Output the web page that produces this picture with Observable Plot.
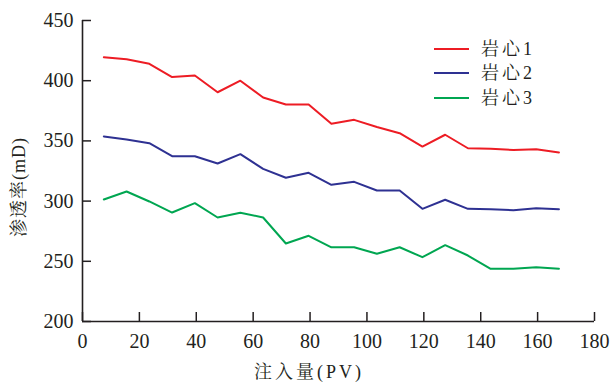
<!DOCTYPE html>
<html><head><meta charset="utf-8">
<script src="https://cdn.jsdelivr.net/npm/d3@7"></script>
<script src="https://cdn.jsdelivr.net/npm/@observablehq/plot@0.6"></script>
<style>
html,body{margin:0;padding:0;background:#fff;}
#chart{position:relative;width:615px;height:383px;color:#231f20;}
.legend{position:absolute;left:434px;top:37px;font-size:18px;}
.legend .row{display:flex;align-items:center;height:24.3px;}
.legend .sw{width:35px;height:2px;margin-right:12px;}
.legend .lab{letter-spacing:3px;line-height:1;}
.ttl{position:absolute;font-size:18px;letter-spacing:3px;white-space:nowrap;line-height:1;}
</style></head><body><div id="chart"></div>
<script>
const pv = [7.5,15.5,23.5,31.5,39.5,47.5,55.5,63.5,71.5,79.5,87.5,95.5,103.5,111.5,119.5,127.5,135.5,143.5,151.5,159.5,167.5];
const core1 = [419.5,417.9,414,403,404.3,390.4,400,386,380.2,380.2,364.2,367.5,361.5,356.4,345.3,355.1,343.9,343.5,342.5,343.1,340.4];
const core2 = [353.7,351.2,348.1,337.3,337.3,331.2,339,326.8,319.4,323.5,313.5,316,308.8,308.8,293.6,301.1,293.6,293.3,292.5,294.1,293.2];
const core3 = [301.3,308,299.7,290.5,298.3,286.4,290.3,286.4,264.8,271.2,261.6,261.7,256.2,261.7,253.4,263.4,254.8,243.8,243.8,245.1,243.8];
const seriesNames = ["岩心1","岩心2","岩心3"];
const seriesColors = ["#ed1c24","#2e3192","#00a651"];
const xTicks = [0,20,40,60,80,100,120,140,160,180];
const yTicks = [200,250,300,350,400,450];
const xTitle = "注入量(PV)";
const yTitle = "渗透率(mD)";

const seriesValues = [core1, core2, core3];
const rows = [];
seriesValues.forEach((vals, s) => vals.forEach((v, i) => rows.push({series: seriesNames[s], pv: pv[i], k: v})));

const W = 615, H = 383, mL = 82, mR = 21, mT = 20, mB = 62;
const plotW = W - mL - mR, plotH = H - mT - mB;
const ink = "#231f20";
const FONT = "'Liberation Serif', 'Noto Serif CJK SC', serif";

const chart = Plot.plot({
  width: W, height: H,
  marginLeft: mL, marginRight: mR, marginTop: mT, marginBottom: mB,
  style: {fontSize: "20px", color: ink, background: "#fff", overflow: "visible"},
  x: {domain: [0, 180], axis: null},
  y: {domain: [200, 450], axis: null},
  color: {domain: seriesNames, range: seriesColors},
  marks: [
    Plot.line(rows, {x: "pv", y: "k", z: "series", stroke: "series", strokeWidth: 2}),
    Plot.tickX(xTicks, {x: d => d, insetTop: plotH - 9, stroke: ink, strokeWidth: 1.5}),
    Plot.tickY(yTicks, {y: d => d, insetRight: plotW - 9, stroke: ink, strokeWidth: 1.5}),
    Plot.ruleX([0], {stroke: ink, strokeWidth: 1.6}),
    Plot.ruleY([200], {stroke: ink, strokeWidth: 1.6}),
    Plot.axisX({ticks: xTicks, tickSize: 0, tickPadding: 12, tickFormat: d => String(d), fontSize: 20, fill: ink, label: null}),
    Plot.axisY({ticks: yTicks, tickSize: 0, tickPadding: 9, tickFormat: d => String(d), fontSize: 20, fill: ink, label: null})
  ]
});
chart.style.fontFamily = FONT;
chart.querySelectorAll("text, g").forEach(el => { el.style.fontFamily = FONT; el.removeAttribute("font-family"); });
const host = document.getElementById("chart");
host.style.fontFamily = FONT;
host.appendChild(chart);

const xt = document.createElement("div");
xt.className = "ttl";
xt.textContent = xTitle;
xt.style.fontFamily = FONT;
xt.style.left = "309px"; xt.style.top = "372px";
xt.style.transform = "translate(-50%,-50%)";
host.appendChild(xt);

const yt = document.createElement("div");
yt.className = "ttl";
yt.textContent = yTitle;
yt.style.fontFamily = FONT;
yt.style.letterSpacing = "1px";
yt.style.left = "19px"; yt.style.top = "187px";
yt.style.transform = "translate(-50%,-50%) rotate(-90deg)";
host.appendChild(yt);

const legend = document.createElement("div");
legend.className = "legend";
legend.style.fontFamily = FONT;
seriesNames.forEach((name, i) => {
  const row = document.createElement("div");
  row.className = "row";
  const sw = document.createElement("div");
  sw.className = "sw";
  sw.style.background = seriesColors[i];
  const lab = document.createElement("span");
  lab.className = "lab";
  lab.textContent = name;
  row.appendChild(sw); row.appendChild(lab);
  legend.appendChild(row);
});
host.appendChild(legend);
</script></body></html>
